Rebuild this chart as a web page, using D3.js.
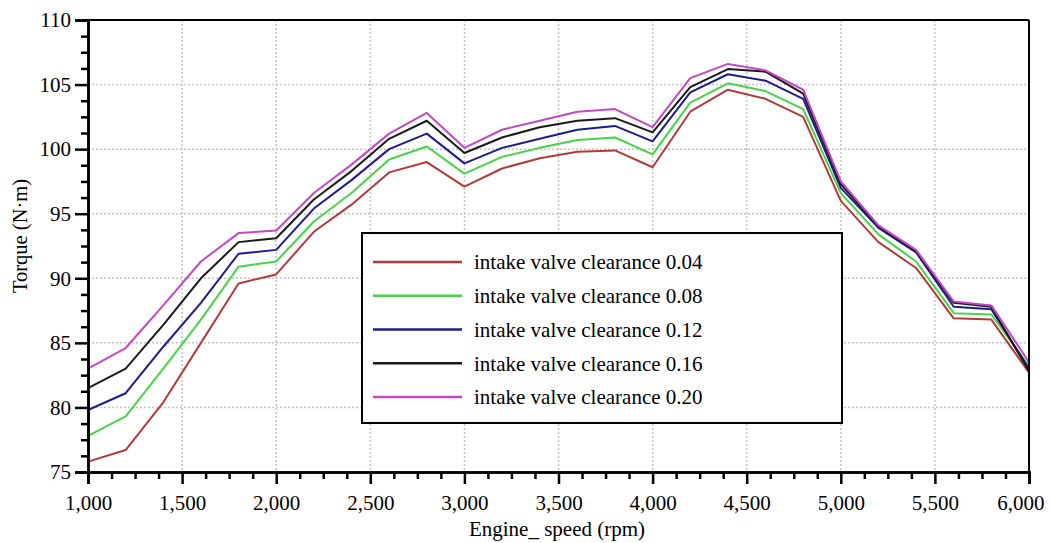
<!DOCTYPE html>
<html>
<head>
<meta charset="utf-8">
<script src="https://cdn.jsdelivr.net/npm/d3@7"></script>
<style>
  html, body { margin: 0; padding: 0; background: #fff; }
  svg { display: block; }
  svg text { font-family: "Liberation Serif", "Times New Roman", Tinos, "Nimbus Roman", "DejaVu Serif", serif !important; }
</style>
</head>
<body>
<svg id="chart" width="1051" height="543"></svg>
<script>
// ---- data ----
const rpm = [1000,1200,1400,1600,1800,2000,2200,2400,2600,2800,3000,3200,3400,3600,3800,4000,4200,4400,4600,4800,5000,5200,5400,5600,5800,6000];
const clearance004 = [75.8,76.7,80.4,85.0,89.6,90.3,93.6,95.7,98.2,99.0,97.1,98.5,99.3,99.8,99.9,98.6,102.9,104.6,103.9,102.5,96.0,92.8,90.8,86.9,86.8,82.7];
const clearance008 = [77.8,79.3,83.0,86.8,90.9,91.3,94.4,96.6,99.2,100.2,98.1,99.4,100.1,100.7,100.9,99.6,103.6,105.1,104.5,103.1,96.6,93.4,91.3,87.3,87.2,83.2];
const clearance012 = [79.8,81.1,84.7,88.1,91.9,92.2,95.4,97.6,100.0,101.2,98.9,100.1,100.8,101.5,101.8,100.6,104.4,105.8,105.3,103.9,97.0,93.9,92.0,87.8,87.6,83.0];
const clearance016 = [81.5,83.0,86.4,90.0,92.8,93.1,96.1,98.3,100.8,102.2,99.7,100.9,101.7,102.2,102.4,101.3,104.8,106.2,106.0,104.3,97.3,94.0,92.1,88.1,87.8,82.8];
const clearance020 = [83.0,84.6,87.9,91.3,93.5,93.7,96.6,98.8,101.2,102.8,100.1,101.5,102.2,102.9,103.1,101.7,105.5,106.6,106.1,104.6,97.5,94.1,92.2,88.2,87.9,83.5];
const seriesNames = ["intake valve clearance 0.04","intake valve clearance 0.08","intake valve clearance 0.12","intake valve clearance 0.16","intake valve clearance 0.20"];
const seriesColors = ["#b23a3a","#47d447","#1c1c8e","#1a1a1a","#c447c4"];
const xTicks = [1000,1500,2000,2500,3000,3500,4000,4500,5000,5500,6000];
const yTicks = [75,80,85,90,95,100,105,110];
const xTitle = "Engine_ speed (rpm)";
const yTitle = "Torque (N·m)";

const seriesValues = [clearance004, clearance008, clearance012, clearance016, clearance020];

// ---- layout ----
const svg = d3.select("#chart");
const pL = 88, pR = 1029, pT = 20, pB = 472;
const x = d3.scaleLinear().domain([1000, 6000]).range([pL, pR]);
const y = d3.scaleLinear().domain([75, 110]).range([pB, pT]);

// grid
const g = svg.append("g");
g.selectAll("line.vg").data(xTicks.filter(t => t > 1000 && t < 6000)).enter()
  .append("line").attr("x1", d => x(d)).attr("x2", d => x(d))
  .attr("y1", pT).attr("y2", pB)
  .attr("stroke", "#c4c4c4").attr("stroke-width", 1.5).attr("stroke-dasharray", "2,2");
g.selectAll("line.hg").data(yTicks.filter(t => t > 75 && t < 110)).enter()
  .append("line").attr("x1", pL).attr("x2", pR)
  .attr("y1", d => y(d)).attr("y2", d => y(d))
  .attr("stroke", "#c4c4c4").attr("stroke-width", 1.5).attr("stroke-dasharray", "2,2");

// lines
const line = d3.line().x((d, i) => x(rpm[i])).y(d => y(d));
seriesValues.forEach((vals, k) => {
  svg.append("path").datum(vals).attr("d", line)
    .attr("fill", "none").attr("stroke", seriesColors[k]).attr("stroke-width", 2)
    .attr("stroke-linejoin", "round");
});

// frame (top & right)
svg.append("line").attr("x1", pL).attr("x2", pR).attr("y1", pT).attr("y2", pT)
  .attr("stroke", "#000").attr("stroke-width", 2);
svg.append("line").attr("x1", pR).attr("x2", pR).attr("y1", pT).attr("y2", pB)
  .attr("stroke", "#000").attr("stroke-width", 2);

// minor ticks
const xMinor = d3.range(1000, 6001, 125).filter(v => v % 500 !== 0);
const yMinor = d3.range(75, 110.01, 1.25).filter(v => Math.abs(v % 5) > 1e-6);

const xAxisMinor = d3.axisBottom(x).tickValues(xMinor).tickSize(7).tickFormat("");
const xAxis = d3.axisBottom(x).tickValues(xTicks).tickSize(12).tickPadding(11).tickFormat(d3.format(","));
const yAxisMinor = d3.axisLeft(y).tickValues(yMinor).tickSize(7).tickFormat("");
const yAxis = d3.axisLeft(y).tickValues(yTicks).tickSize(13).tickPadding(4).tickFormat(d3.format("d"));

function styleAxis(sel) {
  sel.attr("font-family", null);
  sel.select(".domain").attr("stroke", "#000").attr("stroke-width", 2.5);
  sel.selectAll(".tick line").attr("stroke", "#000").attr("stroke-width", 2.5);
  sel.selectAll(".tick text").attr("fill", "#000").attr("font-size", 21);
}
svg.append("g").attr("transform", `translate(0,${pB})`).call(xAxisMinor).call(styleAxis);
const xg = svg.append("g").attr("transform", `translate(0,${pB})`).call(xAxis).call(styleAxis);
// keep the last label inside the picture, as in the reference
xg.selectAll(".tick text").filter(d => d === 6000).attr("text-anchor", "end").attr("x", 15);
svg.append("g").attr("transform", `translate(${pL},0)`).call(yAxisMinor).call(styleAxis);
svg.append("g").attr("transform", `translate(${pL},0)`).call(yAxis).call(styleAxis);

// titles
svg.append("text").attr("x", 557).attr("y", 536).attr("text-anchor", "middle")
  .attr("font-size", 21).attr("fill", "#000").text(xTitle);
svg.append("text").attr("transform", "translate(27,236) rotate(-90)").attr("text-anchor", "middle")
  .attr("font-size", 20.5).attr("fill", "#000").text(yTitle);

// legend
const lg = svg.append("g");
lg.append("rect").attr("x", 362).attr("y", 233).attr("width", 480).attr("height", 190)
  .attr("fill", "#fff").attr("stroke", "#000").attr("stroke-width", 2);
const ly = d3.scalePoint().domain(seriesNames).range([262, 397]);
seriesNames.forEach((name, k) => {
  lg.append("line").attr("x1", 373).attr("x2", 462).attr("y1", ly(name)).attr("y2", ly(name))
    .attr("stroke", seriesColors[k]).attr("stroke-width", 2.5);
  lg.append("text").attr("x", 474).attr("y", ly(name)).attr("dy", "0.35em")
    .attr("font-size", 21).attr("fill", "#000").text(name);
});
</script>
</body>
</html>
